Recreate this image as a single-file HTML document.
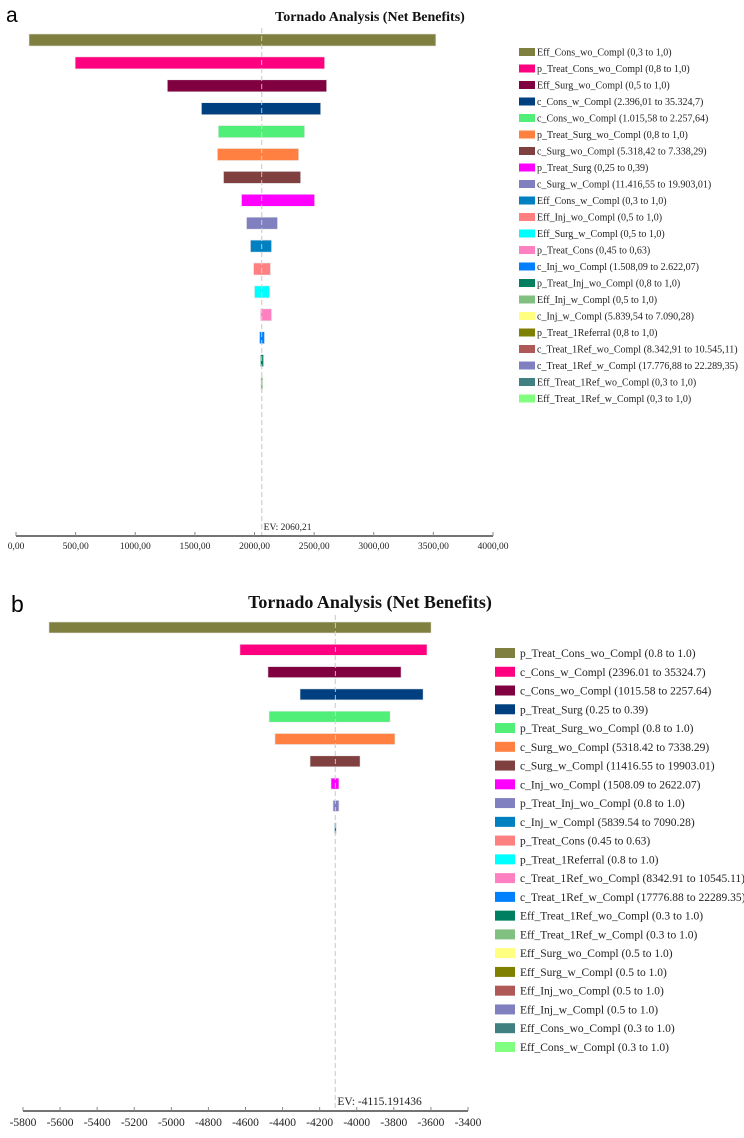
<!DOCTYPE html>
<html><head><meta charset="utf-8">
<style>
html,body{margin:0;padding:0;background:#fff;}
body{width:744px;height:1138px;position:relative;overflow:hidden;font-family:"Liberation Serif",serif;}
svg{position:absolute;left:0;top:0;}
</style></head>
<body>
<svg id="chart" width="744" height="1138" viewBox="0 0 744 1138">
<text x="6" y="22" font-family="Liberation Sans, sans-serif" font-size="21" fill="#000">a</text>
<text x="370" y="21" text-anchor="middle" font-weight="bold" font-size="14" fill="#111">Tornado Analysis (Net Benefits)</text>
<text x="11" y="612" font-family="Liberation Sans, sans-serif" font-size="23" fill="#000">b</text>
<text x="370" y="608" text-anchor="middle" font-weight="bold" font-size="18" fill="#111">Tornado Analysis (Net Benefits)</text>
<g id="ga"></g>
<g id="gb"></g>
</svg>
<script>
// ---- Chart A data ----
const labelsA = ["Eff_Cons_wo_Compl (0,3 to 1,0)","p_Treat_Cons_wo_Compl (0,8 to 1,0)","Eff_Surg_wo_Compl (0,5 to 1,0)","c_Cons_w_Compl (2.396,01 to 35.324,7)","c_Cons_wo_Compl (1.015,58 to 2.257,64)","p_Treat_Surg_wo_Compl (0,8 to 1,0)","c_Surg_wo_Compl (5.318,42 to 7.338,29)","p_Treat_Surg (0,25 to 0,39)","c_Surg_w_Compl (11.416,55 to 19.903,01)","Eff_Cons_w_Compl (0,3 to 1,0)","Eff_Inj_wo_Compl (0,5 to 1,0)","Eff_Surg_w_Compl (0,5 to 1,0)","p_Treat_Cons (0,45 to 0,63)","c_Inj_wo_Compl (1.508,09 to 2.622,07)","p_Treat_Inj_wo_Compl (0,8 to 1,0)","Eff_Inj_w_Compl (0,5 to 1,0)","c_Inj_w_Compl (5.839,54 to 7.090,28)","p_Treat_1Referral (0,8 to 1,0)","c_Treat_1Ref_wo_Compl (8.342,91 to 10.545,11)","c_Treat_1Ref_w_Compl (17.776,88 to 22.289,35)","Eff_Treat_1Ref_wo_Compl (0,3 to 1,0)","Eff_Treat_1Ref_w_Compl (0,3 to 1,0)"];
const lowA  = [109, 496, 1269, 1555, 1697, 1689, 1740, 1891, 1933, 1966, 1992, 2000, 2050, 2042, 2050, 2052];
const highA = [3521, 2588, 2605, 2555, 2420, 2370, 2387, 2504, 2193, 2143, 2134, 2126, 2143, 2084, 2076, 2070];
const ticksA = [0,500,1000,1500,2000,2500,3000,3500,4000];
const tickLabelsA = ["0,00","500,00","1000,00","1500,00","2000,00","2500,00","3000,00","3500,00","4000,00"];
const evA = 2060.21;
const evLabelA = "EV: 2060,21";
// ---- Chart B data ----
const labelsB = ["p_Treat_Cons_wo_Compl (0.8 to 1.0)","c_Cons_w_Compl (2396.01 to 35324.7)","c_Cons_wo_Compl (1015.58 to 2257.64)","p_Treat_Surg (0.25 to 0.39)","p_Treat_Surg_wo_Compl (0.8 to 1.0)","c_Surg_wo_Compl (5318.42 to 7338.29)","c_Surg_w_Compl (11416.55 to 19903.01)","c_Inj_wo_Compl (1508.09 to 2622.07)","p_Treat_Inj_wo_Compl (0.8 to 1.0)","c_Inj_w_Compl (5839.54 to 7090.28)","p_Treat_Cons (0.45 to 0.63)","p_Treat_1Referral (0.8 to 1.0)","c_Treat_1Ref_wo_Compl (8342.91 to 10545.11)","c_Treat_1Ref_w_Compl (17776.88 to 22289.35)","Eff_Treat_1Ref_wo_Compl (0.3 to 1.0)","Eff_Treat_1Ref_w_Compl (0.3 to 1.0)","Eff_Surg_wo_Compl (0.5 to 1.0)","Eff_Surg_w_Compl (0.5 to 1.0)","Eff_Inj_wo_Compl (0.5 to 1.0)","Eff_Inj_w_Compl (0.5 to 1.0)","Eff_Cons_wo_Compl (0.3 to 1.0)","Eff_Cons_w_Compl (0.3 to 1.0)"];
const lowB  = [-5660, -4630, -4479, -4306, -4473, -4441, -4252, -4139, -4128, -4120];
const highB = [-3599, -3621, -3761, -3642, -3820, -3794, -3982, -4096, -4096, -4110];
const ticksB = [-5800,-5600,-5400,-5200,-5000,-4800,-4600,-4400,-4200,-4000,-3800,-3600,-3400];
const tickLabelsB = ["-5800","-5600","-5400","-5200","-5000","-4800","-4600","-4400","-4200","-4000","-3800","-3600","-3400"];
const evB = -4115.191436;
const evLabelB = "EV: -4115.191436";

const colorsA = ["#7f7f3f","#ff0080","#800040","#004080","#50f078","#ff8040","#804040","#ff00ff","#8080c0","#0080c0","#ff8080","#00ffff","#ff80c0","#0080ff","#008060","#80c080","#ffff80","#808000","#b05858","#8080c0","#408080","#80ff80"];
const colorsB = ["#7f7f3f","#ff0080","#800040","#004080","#50f078","#ff8040","#804040","#ff00ff","#8080c0","#0080c0","#ff8080","#00ffff","#ff80c0","#0080ff","#008060","#80c080","#ffff80","#808000","#b05858","#8080c0","#408080","#80ff80"];

const NS = "http://www.w3.org/2000/svg";
function mk(tag, attrs, parent){const e=document.createElementNS(NS,tag);for(const k in attrs)e.setAttribute(k,attrs[k]);parent.appendChild(e);return e;}

function drawChart(g, cfg){
  const x = v => cfg.x0 + (v - cfg.d0) / (cfg.d1 - cfg.d0) * (cfg.x1 - cfg.x0);
  const y = i => cfg.yTop + i * cfg.rowStep;
  const ev = mk("line",{x1:x(cfg.ev),x2:x(cfg.ev),y1:cfg.evTop,y2:cfg.axisY,stroke:"#c8c8c8","stroke-width":1.3,"stroke-dasharray":"5,3"},g);
  
  
  for(let i=0;i<cfg.low.length;i++){
    const r = mk("rect",{x:x(cfg.low[i]),y:y(i)-cfg.barH/2,width:Math.max(1,x(cfg.high[i])-x(cfg.low[i])),height:cfg.barH,fill:cfg.colors[i],stroke:"#e8e8e8","stroke-width":0.6},g);
    
    
  }
  mk("line",{x1:x(cfg.ev),x2:x(cfg.ev),y1:cfg.evTop,y2:cfg.axisY,stroke:"#dddddd","stroke-width":1,"stroke-dasharray":"5,3",opacity:0.8},g);
  const evt = mk("text",{x:x(cfg.ev)+2,y:cfg.axisY-6,"font-size":cfg.evFont,fill:"#222"},g);
  evt.textContent = cfg.evLabel;
  
  
  const ax = mk("line",{x1:cfg.x0,x2:cfg.x1,y1:cfg.axisY,y2:cfg.axisY,stroke:"#222","stroke-width":1.3},g);
  
  
  for(let i=0;i<cfg.ticks.length;i++){
    const tx=x(cfg.ticks[i]);
    mk("line",{x1:tx,x2:tx,y1:cfg.axisY-4,y2:cfg.axisY,stroke:"#888","stroke-width":1},g);
    const t = mk("text",{x:tx,y:cfg.axisY+cfg.tickDy,"text-anchor":"middle","font-size":cfg.tickFont,fill:"#222"},g);
    t.textContent = cfg.tickLabels[i];
    
    
  }
  for(let i=0;i<cfg.labels.length;i++){
    const ly = cfg.legTop + i*cfg.legStep;
    const sw = mk("rect",{x:cfg.legX,y:ly-cfg.swH/2,width:cfg.swW,height:cfg.swH,fill:cfg.colors[i]},g);
    
    
    const lt = mk("text",{x:cfg.legX+cfg.swW+cfg.legGap,y:ly+cfg.legFont*0.35,"font-size":cfg.legFont,fill:"#222"},g);
    lt.textContent = cfg.labels[i];
    
    
  }
}

drawChart(document.getElementById('ga'),{
  x0:16,x1:493,d0:0,d1:4000,yTop:40,rowStep:22.9,barH:12,axisY:536,evTop:28,
  low:lowA,high:highA,colors:colorsA,ev:evA,evLabel:evLabelA,evFont:9.5,
  ticks:ticksA,tickLabels:tickLabelsA,tickFont:9.5,tickDy:13,
  labels:labelsA,legTop:52,legStep:16.5,legX:519,swW:16,swH:8,legGap:2,legFont:10
});
drawChart(document.getElementById('gb'),{
  x0:23,x1:468,d0:-5800,d1:-3400,yTop:627.5,rowStep:22.3,barH:11,axisY:1111,evTop:615,
  low:lowB,high:highB,colors:colorsB,ev:evB,evLabel:evLabelB,evFont:11.5,
  ticks:ticksB,tickLabels:tickLabelsB,tickFont:11.5,tickDy:15,
  labels:labelsB,legTop:653,legStep:18.76,legX:495,swW:20,swH:10,legGap:5,legFont:11.5
});
</script>
</body></html>
